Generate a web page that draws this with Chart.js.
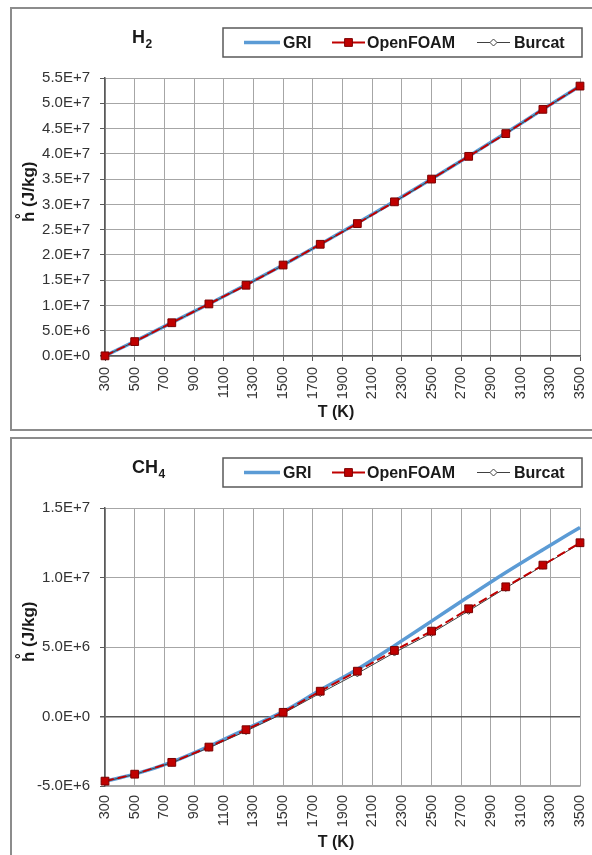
<!DOCTYPE html>
<html>
<head>
<meta charset="utf-8">
<script src="https://cdn.jsdelivr.net/npm/chart.js@4.4.0/dist/chart.umd.min.js"></script>
<style>
  html, body { margin: 0; padding: 0; background: #fff; }
  body { width: 592px; height: 855px; position: relative; overflow: hidden; }
  .frame { position: absolute; border: 2px solid #8c8c8c; background: #fff; }
  canvas { position: absolute; left: 0; }
</style>
</head>
<body>
<div class="frame" style="left:10px; top:7px; width:600px; height:420px;"></div>
<div class="frame" style="left:10px; top:437px; width:600px; height:440px;"></div>
<canvas id="h2Chart" width="592" height="430" style="top:0px"></canvas>
<canvas id="ch4Chart" width="592" height="425" style="top:430px"></canvas>
<script>
// temperatures of the plotted points (K)
const temps = [300, 500, 750, 1000, 1250, 1500, 1750, 2000, 2250, 2500, 2750, 3000, 3250, 3500];

// H2 enthalpy (J/kg)
const h2Gri      = [0.03e6, 2.9e6, 6.6e6, 10.3e6, 14.1e6, 18.0e6, 22.1e6, 26.3e6, 30.6e6, 35.0e6, 39.5e6, 44.1e6, 48.8e6, 53.4e6];
const h2OpenFoam = [0.03e6, 2.85e6, 6.58e6, 10.3e6, 14.0e6, 18.0e6, 22.1e6, 26.2e6, 30.5e6, 35.0e6, 39.5e6, 44.0e6, 48.8e6, 53.4e6];
const h2Burcat   = [0.03e6, 2.85e6, 6.55e6, 10.25e6, 14.0e6, 17.95e6, 22.05e6, 26.2e6, 30.5e6, 34.95e6, 39.5e6, 44.0e6, 48.75e6, 53.35e6];

// CH4 enthalpy (J/kg)
const ch4Gri      = [-4.65e6, -4.15e6, -3.28e6, -2.15e6, -0.9e6, 0.35e6, 1.9e6, 3.4e6, 5.1e6, 6.86e6, 8.63e6, 10.36e6, 12.0e6, 13.6e6];
const ch4OpenFoam = [-4.65e6, -4.15e6, -3.3e6, -2.2e6, -0.95e6, 0.3e6, 1.82e6, 3.26e6, 4.75e6, 6.14e6, 7.75e6, 9.33e6, 10.89e6, 12.5e6];
const ch4Burcat   = [-4.67e6, -4.17e6, -3.32e6, -2.25e6, -1.05e6, 0.22e6, 1.68e6, 3.1e6, 4.6e6, 6.0e6, 7.6e6, 9.25e6, 10.85e6, 12.45e6];

const seriesNames = ['GRI', 'OpenFOAM', 'Burcat'];

const FONT = '"Liberation Sans", Arial, sans-serif';
Chart.defaults.font.family = FONT;
Chart.defaults.color = '#333';

const toPoints = vals => vals.map((v, i) => ({x: temps[i], y: v}));

// title, legend box and axis titles drawn the way the spreadsheet lays them out
const excelDecor = {
  id: 'excelDecor',
  afterDraw(chart, args, opts) {
    const ctx = chart.ctx;
    ctx.save();
    ctx.fillStyle = '#1a1a1a';
    ctx.textAlign = 'left';
    ctx.textBaseline = 'alphabetic';

    // chemical formula with subscript
    ctx.font = 'bold 18px ' + FONT;
    ctx.fillText(opts.formula[0], 132, 43);
    const fw = ctx.measureText(opts.formula[0]).width;
    ctx.font = 'bold 12px ' + FONT;
    ctx.fillText(opts.formula[1], 132 + fw + 0.5, 47.5);

    // legend
    ctx.fillStyle = '#fff';
    ctx.fillRect(223, 28, 359, 29);
    ctx.strokeStyle = '#595959';
    ctx.lineWidth = 1.5;
    ctx.strokeRect(223, 28, 359, 29);
    const slots = [[244, 280, 283], [332, 365, 367], [477, 510, 514]];
    const ly = 42.5;
    chart.data.datasets.forEach((ds, i) => {
      const [x1, x2, tx] = slots[i];
      ctx.strokeStyle = ds.borderColor;
      ctx.lineWidth = ds.borderWidth;
      ctx.setLineDash([]);
      ctx.beginPath();
      ctx.moveTo(x1, ly);
      ctx.lineTo(x2, ly);
      ctx.stroke();
      if (ds.pointRadius > 0) {
        ctx.fillStyle = ds.pointBackgroundColor;
        ctx.strokeStyle = ds.pointBorderColor;
        ctx.lineWidth = ds.pointBorderWidth;
        Chart.helpers.drawPoint(ctx, {pointStyle: ds.pointStyle, radius: ds.pointRadius, borderWidth: ds.pointBorderWidth, rotation: 0}, (x1 + x2) / 2, ly);
      }
      ctx.fillStyle = '#1a1a1a';
      ctx.font = 'bold 16px ' + FONT;
      ctx.textBaseline = 'middle';
      ctx.fillText(ds.label, tx, ly + 1);
    });

    // x axis title
    ctx.textBaseline = 'alphabetic';
    ctx.textAlign = 'center';
    ctx.font = 'bold 16px ' + FONT;
    ctx.fillText('T (K)', 336, 417);

    // y axis title, rotated, with the ring over the h
    ctx.translate(34, opts.yTitleBase);
    ctx.rotate(-Math.PI / 2);
    ctx.textAlign = 'left';
    ctx.font = 'bold 17px ' + FONT;
    const hw = ctx.measureText('h').width;
    ctx.fillText('h (J/kg)', 0, 0);
    ctx.textAlign = 'center';
    ctx.font = 'bold 14px ' + FONT;
    ctx.fillText('°', hw * 0.55, -8.5);
    ctx.restore();
  }
};

function buildChart(id, gri, openFoam, burcat, yMin, yMax, decor) {
  const canvas = document.getElementById(id);
  return new Chart(canvas, {
    type: 'line',
    data: {
      datasets: [{
        label: seriesNames[0],
        data: toPoints(gri),
        borderColor: '#5b9bd5',
        borderWidth: 3.5,
        pointRadius: 0,
        cubicInterpolationMode: 'monotone',
        clip: false,
        order: 3
      }, {
        label: seriesNames[1],
        data: toPoints(openFoam),
        borderColor: '#c00000',
        borderWidth: 2,
        borderDash: [9, 4],
        pointStyle: 'rect',
        pointRadius: 5.5,
        pointBackgroundColor: '#c00000',
        pointBorderColor: '#7a0000',
        pointBorderWidth: 1,
        tension: 0,
        clip: false,
        order: 1
      }, {
        label: seriesNames[2],
        data: toPoints(burcat),
        borderColor: '#404040',
        borderWidth: 1,
        pointStyle: 'rectRot',
        pointRadius: 3.5,
        pointBackgroundColor: '#ffffff',
        pointBorderColor: '#404040',
        pointBorderWidth: 1,
        tension: 0,
        clip: false,
        order: 2
      }]
    },
    options: {
      responsive: false,
      animation: false,
      events: [],
      layout: {
        autoPadding: false,
        padding: {left: 0, top: 78, right: 12, bottom: canvas.height - 356 - 65}
      },
      plugins: {
        legend: {display: false},
        tooltip: {enabled: false},
        excelDecor: decor
      },
      scales: {
        x: {
          type: 'linear',
          min: 300,
          max: 3500,
          afterFit: s => { s.height = 65; s.paddingLeft = 0; s.paddingRight = 0; },
          ticks: {
            stepSize: 200,
            autoSkip: false,
            minRotation: 90,
            maxRotation: 90,
            padding: decor.xPad,
            font: {size: 14.5},
            color: '#333',
            callback: v => String(v)
          },
          grid: {
            color: '#a6a6a6',
            lineWidth: 1,
            tickLength: 5,
            tickColor: decor.xTickColor
          },
          border: {color: decor.xBorder, width: 1.5}
        },
        y: {
          min: yMin,
          max: yMax,
          afterFit: s => { s.width = 105; s.paddingTop = 0; s.paddingBottom = 0; },
          ticks: {
            stepSize: 5e6,
            padding: 10,
            font: {size: 15},
            color: '#333',
            callback: v => Number(v).toExponential(1).replace('e', 'E')
          },
          grid: {
            color: c => (c.tick && c.tick.value === 0 ? '#595959' : '#a6a6a6'),
            lineWidth: c => (c.tick && c.tick.value === 0 ? 1.5 : 1),
            tickLength: 5,
            tickColor: '#595959'
          },
          border: {color: '#595959', width: 1.5}
        }
      }
    },
    plugins: [excelDecor]
  });
}

const h2Chart = buildChart('h2Chart', h2Gri, h2OpenFoam, h2Burcat, 0, 5.5e7,
  {formula: ['H', '2'], yTitleBase: 222, xPad: 6, xTickColor: '#595959', xBorder: '#595959'});

const ch4Chart = buildChart('ch4Chart', ch4Gri, ch4OpenFoam, ch4Burcat, -5e6, 1.5e7,
  {formula: ['CH', '4'], yTitleBase: 232, xPad: 4, xTickColor: 'rgba(0,0,0,0)', xBorder: '#a6a6a6'});
</script>
</body>
</html>
